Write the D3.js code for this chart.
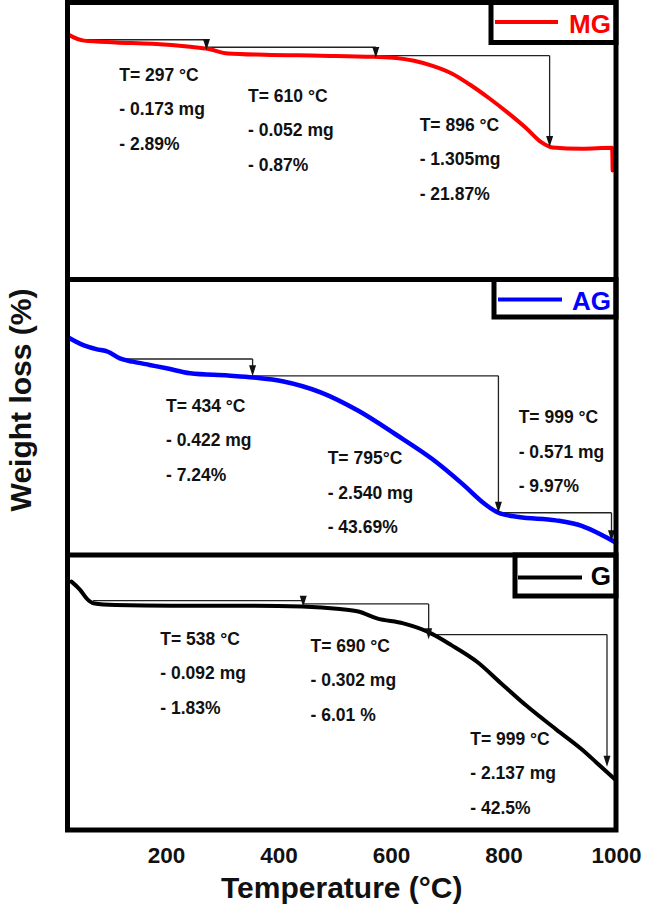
<!DOCTYPE html>
<html><head><meta charset="utf-8">
<script src="https://cdn.jsdelivr.net/npm/d3@7"></script>
<style>
html,body{margin:0;padding:0;background:#fff;}
svg{display:block;font-family:"Liberation Sans",Arial,Helvetica,sans-serif;}
</style></head><body>
<svg id="chart" width="646" height="921"></svg>
<script>
// ---------------- data ----------------
const tickValues = [200, 400, 600, 800, 1000];
const seriesNames = ["MG", "AG", "G"];
const seriesColors = ["#ff0000", "#0000ff", "#000000"];

const mgTemp   = [27, 54, 110, 176, 243, 276, 310, 376, 475, 568, 609, 641, 674, 708, 740, 774, 808, 840, 867, 887, 939, 993, 994];
const mgWeight = [100.2, 98.9, 98.5, 98.2, 97.5, 97.0, 96.0, 95.7, 95.5, 95.25, 95.0, 94.35, 93.2, 91.5, 89.0, 85.95, 82.6, 79.2, 76.0, 74.8, 74.5, 74.7, 69.6];

const agTemp   = [25.5, 52, 76, 97, 118, 141, 171, 201, 243, 310, 356, 409, 475, 542, 608, 674, 728, 768, 791, 827, 893, 939, 973, 1000];
const agWeight = [100.5, 98.2, 96.9, 96.1, 94.1, 93.1, 92.1, 91.1, 89.6, 88.9, 88.3, 87.1, 83.8, 78.2, 71.1, 63.5, 55.9, 49.8, 47.3, 46.0, 45.0, 43.3, 40.7, 38.2];

const gTemp    = [32, 47, 61, 71, 110, 210, 343, 442, 509, 542, 575, 622, 665, 708, 754, 794, 841, 894, 940, 967, 1000];
const gWeight  = [100.4, 98.2, 95.4, 94.4, 93.9, 93.7, 93.7, 93.5, 92.8, 92.1, 90.2, 88.8, 86.5, 82.7, 78.0, 72.4, 65.9, 59.3, 53.7, 49.9, 45.2];

// step annotations: horizontal from -> at (level), then arrow down to tip
const mgArrowFrom = [53.5, 272, 573];
const mgArrowAt   = [272, 573, 882];
const mgArrowLevel= [99.1, 97.4, 95.5];
const mgArrowTip  = [96.8, 95.0, 74.9];

const agArrowFrom = [117, 354, 791];
const agArrowAt   = [354, 791, 992];
const agArrowLevel= [93.9, 88.8, 47.3];
const agArrowTip  = [88.7, 47.3, 38.7];

const gArrowFrom  = [70.5, 444, 667];
const gArrowAt    = [444, 667, 984];
const gArrowLevel = [95.1, 94.2, 85.7];
const gArrowTip   = [93.4, 84.4, 49.0];

const mgNotes = [["T= 297 °C", "- 0.173 mg", "- 2.89%"], ["T= 610 °C", "- 0.052 mg", "- 0.87%"], ["T= 896 °C", "- 1.305mg", "- 21.87%"]];
const mgNoteTemp = [117, 346, 651];
const mgNoteWeight = [89.8, 85.05, 78.6];

const agNotes = [["T= 434 °C", "- 0.422 mg", "- 7.24%"], ["T= 795°C", "- 2.540 mg", "- 43.69%"], ["T= 999 °C", "- 0.571 mg", "- 9.97%"]];
const agNoteTemp = [200, 487.5, 827];
const agNoteWeight = [77.9, 62.0, 74.5];

const gNotes = [["T= 538 °C", "- 0.092 mg", "- 1.83%"], ["T= 690 °C", "- 0.302 mg", "- 6.01 %"], ["T= 999 °C", "- 2.137 mg", "- 42.5%"]];
const gNoteTemp = [190, 457, 741];
const gNoteWeight = [82.9, 80.9, 55.1];

// ---------------- layout ----------------
const frame = {left: 67.5, right: 616, top: 2.5, bottom: 830};
const panelLayout = [
  {top: 2.5,   bottom: 279.5, yDomain: [45, 107.5], width: 4,   boxLeft: 491, boxH: 40,  lx1: 495, lx2: 558, ly: 19.5},
  {top: 279.5, bottom: 555,   yDomain: [34.5, 118], width: 4.5, boxLeft: 494, boxH: 37.5, lx1: 498, lx2: 562, ly: 20},
  {top: 555,   bottom: 830,   yDomain: [31.4, 107.8], width: 4, boxLeft: 515, boxH: 41,  lx1: 518, lx2: 582, ly: 22.5}
];
const series = [
  {temp: mgTemp, w: mgWeight, from: mgArrowFrom, at: mgArrowAt, level: mgArrowLevel, tip: mgArrowTip, notes: mgNotes, nt: mgNoteTemp, nw: mgNoteWeight},
  {temp: agTemp, w: agWeight, from: agArrowFrom, at: agArrowAt, level: agArrowLevel, tip: agArrowTip, notes: agNotes, nt: agNoteTemp, nw: agNoteWeight},
  {temp: gTemp,  w: gWeight,  from: gArrowFrom,  at: gArrowAt,  level: gArrowLevel,  tip: gArrowTip,  notes: gNotes,  nt: gNoteTemp,  nw: gNoteWeight}
];

const svg = d3.select("#chart");
svg.append("rect").attr("width", 646).attr("height", 921).attr("fill", "#fff");

const x = d3.scaleLinear().domain([25, 1000]).range([frame.left, frame.right]);

series.forEach((s, i) => {
  const L = panelLayout[i];
  const y = d3.scaleLinear().domain(L.yDomain).range([L.bottom, L.top]);
  const g = svg.append("g");
  const pts = s.temp.map((t, k) => [t, s.w[k]]);
  const line = d3.line().x(d => x(d[0])).y(d => y(d[1])).curve(d3.curveMonotoneX);

  // arrows
  s.at.forEach((t, k) => {
    g.append("line").attr("x1", x(s.from[k])).attr("x2", x(t))
      .attr("y1", y(s.level[k])).attr("y2", y(s.level[k]))
      .attr("stroke", "#222").attr("stroke-width", 1.3);
    g.append("line").attr("x1", x(t)).attr("x2", x(t))
      .attr("y1", y(s.level[k])).attr("y2", y(s.tip[k]) - 4)
      .attr("stroke", "#222").attr("stroke-width", 1.3);
  });

  g.append("path").attr("d", line(pts)).attr("fill", "none")
    .attr("stroke", seriesColors[i]).attr("stroke-width", L.width)
    .attr("stroke-linejoin", "round").attr("stroke-linecap", "round");

  s.at.forEach((t, k) => {
    const px = x(t), py = y(s.tip[k]);
    g.append("path").attr("d", `M${px - 3.5},${py - 11}L${px + 3.5},${py - 11}L${px},${py}Z`).attr("fill", "#111");
  });

  // notes
  s.notes.forEach((lines, k) => {
    const tx = g.append("text").attr("x", x(s.nt[k])).attr("y", y(s.nw[k]))
      .attr("font-size", 17.5).attr("font-weight", "bold").attr("fill", "#111");
    lines.forEach((ln, j) => {
      tx.append("tspan").attr("x", x(s.nt[k])).attr("y", y(s.nw[k]) + j * 34.5).text(ln);
    });
  });

  // legend
  g.append("rect").attr("x", L.boxLeft).attr("y", L.top).attr("width", frame.right - L.boxLeft).attr("height", L.boxH)
    .attr("fill", "#fff").attr("stroke", "#000").attr("stroke-width", 5);
  g.append("line").attr("x1", L.lx1).attr("x2", L.lx2).attr("y1", L.top + L.ly).attr("y2", L.top + L.ly)
    .attr("stroke", seriesColors[i]).attr("stroke-width", 4);
  g.append("text").attr("x", 611).attr("y", L.top + 30).attr("text-anchor", "end")
    .attr("font-size", 26).attr("font-weight", "bold").attr("fill", seriesColors[i]).text(seriesNames[i]);

  // panel separator
  if (i > 0) {
    svg.append("line").attr("x1", frame.left).attr("x2", frame.right).attr("y1", L.top).attr("y2", L.top)
      .attr("stroke", "#000").attr("stroke-width", 5);
  }
});

// outer frame
svg.append("rect").attr("x", frame.left).attr("y", frame.top)
  .attr("width", frame.right - frame.left).attr("height", frame.bottom - frame.top)
  .attr("fill", "none").attr("stroke", "#000").attr("stroke-width", 5);

// x axis
const ax = svg.append("g").attr("transform", `translate(0,${frame.bottom})`)
  .call(d3.axisBottom(x).tickValues(tickValues).tickSize(0).tickPadding(17).tickFormat(d3.format("d")));
ax.select(".domain").remove();
ax.selectAll("text").attr("font-size", 22.5).attr("font-weight", "bold").attr("fill", "#111")
  .attr("font-family", "Liberation Sans, Arial, sans-serif");

svg.append("text").attr("x", (frame.left + frame.right) / 2).attr("y", 898)
  .attr("text-anchor", "middle").attr("font-size", 30).attr("font-weight", "bold").attr("fill", "#111")
  .text("Temperature (°C)");

svg.append("text").attr("transform", "translate(31,400) rotate(-90)")
  .attr("text-anchor", "middle").attr("font-size", 30).attr("font-weight", "bold").attr("fill", "#111")
  .text("Weight loss (%)");
</script>
</body></html>
